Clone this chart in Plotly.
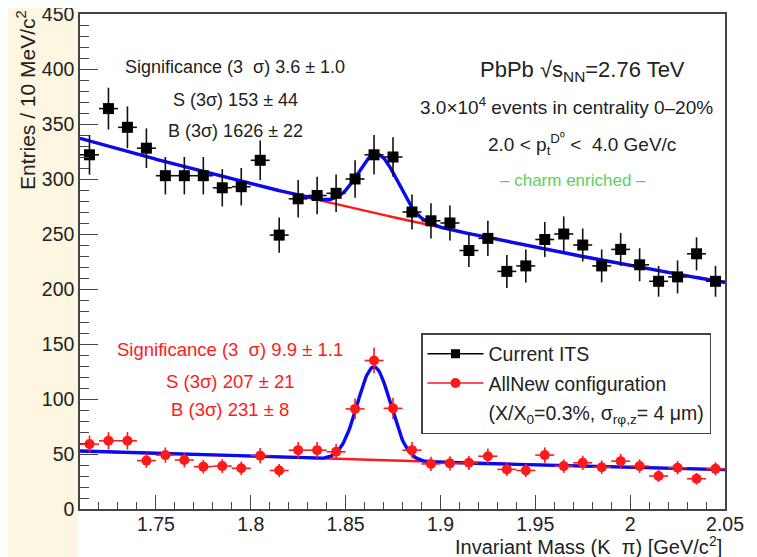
import numpy as np
import plotly.graph_objects as go

# ---------------- data ----------------
bin_centers = [1.715, 1.725, 1.735, 1.745, 1.755, 1.765, 1.775, 1.785, 1.795, 1.805,
               1.815, 1.825, 1.835, 1.845, 1.855, 1.865, 1.875, 1.885, 1.895, 1.905,
               1.915, 1.925, 1.935, 1.945, 1.955, 1.965, 1.975, 1.985, 1.995, 2.005,
               2.015, 2.025, 2.035, 2.045]
bin_half_width = [0.005] * 34

current_its = [322, 364, 347, 328, 303, 303, 303, 292, 293, 317,
               249, 282, 285, 287, 300, 322, 320, 270, 262, 260,
               235, 246, 216, 221, 245, 250, 240, 221, 236, 222,
               207, 211, 232, 207]
current_its_err = [18, 19, 19, 18, 17, 17, 17, 17, 17, 18,
                   16, 17, 17, 17, 17, 18, 18, 16, 16, 16,
                   15, 16, 15, 15, 16, 16, 15, 15, 15, 15,
                   14, 15, 15, 14]

allnew = [59, 62, 62, 44, 49, 44.5, 38.5, 39, 37, 48.5,
          35, 53.5, 53.5, 52, 91, 135, 91.5, 53.5, 41, 41.5,
          42, 48, 36, 35, 49, 39, 42, 38, 43.5, 39,
          30, 37.5, 27.5, 36.5]
allnew_err = [7.7, 7.9, 7.9, 6.6, 7.0, 6.7, 6.2, 6.2, 6.1, 7.0,
              5.9, 7.3, 7.3, 7.2, 9.5, 11.6, 9.6, 7.3, 6.4, 6.4,
              6.5, 6.9, 6.0, 5.9, 7.0, 6.2, 6.5, 6.2, 6.6, 6.2,
              5.5, 6.1, 5.2, 6.0]

# fit parameters (exponential background + gaussian signal)
fit_its = dict(b0=337.0, slope=1.449, amp=54.0, mean=1.867, sigma=0.0105)
fit_new = dict(b0=52.7, slope=1.135, amp=85.0, mean=1.865, sigma=0.0087)

x_tick_vals = [1.75, 1.8, 1.85, 1.9, 1.95, 2.0, 2.05]
x_tick_text = ["1.75", "1.8", "1.85", "1.9", "1.95", "2", "2.05"]
y_tick_vals = [0, 50, 100, 150, 200, 250, 300, 350, 400, 450]

X_MIN, X_MAX = 1.71, 2.05


def bkg(x, p):
    return p["b0"] * np.exp(-p["slope"] * (x - X_MIN))


def total(x, p):
    return bkg(x, p) + p["amp"] * np.exp(-0.5 * ((x - p["mean"]) / p["sigma"]) ** 2)


xf = np.linspace(X_MIN, X_MAX, 500)

FONT = "Liberation Sans, Arial, Helvetica, sans-serif"
RED = "#ff1a1a"
BLUE = "#0a0af0"
TXT = "#222"

fig = go.Figure()

# fits: background (red) under total (blue)
for p in (fit_its, fit_new):
    fig.add_trace(go.Scatter(x=xf, y=bkg(xf, p), mode="lines",
                             line=dict(color=RED, width=2.4), showlegend=False, hoverinfo="skip"))
for p in (fit_its, fit_new):
    fig.add_trace(go.Scatter(x=xf, y=total(xf, p), mode="lines",
                             line=dict(color=BLUE, width=3.4), showlegend=False, hoverinfo="skip"))

# data points
fig.add_trace(go.Scatter(
    x=bin_centers, y=current_its, mode="markers", showlegend=False,
    marker=dict(symbol="square", size=11, color="black"),
    error_y=dict(type="data", array=current_its_err, color="#111", thickness=1.6, width=0),
    error_x=dict(type="data", array=bin_half_width, color="#111", thickness=1.6, width=0),
))
fig.add_trace(go.Scatter(
    x=bin_centers, y=allnew, mode="markers", showlegend=False,
    marker=dict(symbol="circle", size=10, color=RED),
    error_y=dict(type="data", array=allnew_err, color=RED, thickness=1.6, width=0),
    error_x=dict(type="data", array=bin_half_width, color=RED, thickness=1.6, width=0),
))

# legend entries
fig.add_trace(go.Scatter(x=[None], y=[None], mode="lines+markers", name="Current ITS",
                         line=dict(color="black", width=1.5),
                         marker=dict(symbol="square", size=9, color="black"),
                         legendgroup="a"))
fig.add_trace(go.Scatter(x=[None], y=[None], mode="lines+markers", name="AllNew configuration",
                         line=dict(color=RED, width=1.5),
                         marker=dict(symbol="circle", size=10, color=RED),
                         legendgroup="b"))
fig.add_trace(go.Scatter(x=[None], y=[None], mode="lines",
                         name="(X/X<sub>0</sub>=0.3%, σ<sub>rφ,z</sub>= 4 μm)",
                         line=dict(color="rgba(0,0,0,0)", width=0),
                         legendgroup="c"))

# ---------------- layout ----------------
# The page body has an 8px margin, so the figure is shrunk and placed accordingly.
OFF = 8
PL, PR, PT, PB = 80, 725, 14, 509          # plot area in window pixels
W, H = 757 - OFF, 557 - OFF
pw, ph = PR - PL, PB - PT


def px(xp):
    return (xp - PL) / pw


def py(yp):
    return (PB - yp) / ph


ann = []


def add_text(text, xc, yc, size=18, color=TXT):
    ann.append(dict(text=text, x=px(xc), y=py(yc), xref="paper", yref="paper",
                    xanchor="center", yanchor="middle", showarrow=False,
                    font=dict(family=FONT, size=size, color=color)))


add_text("Significance (3\u00a0\u00a0σ) 3.6 ± 1.0", 235, 67)
add_text("S (3σ) 153 ± 44", 235, 100)
add_text("B (3σ) 1626 ± 22", 235, 131)
add_text("PbPb √s<sub>NN</sub>=2.76 TeV", 582, 71, size=22)
add_text("3.0×10<sup>4</sup> events in centrality 0–20%", 566, 106, size=19)
add_text("2.0 &lt; p<sub>t</sub><sup>D⁰</sup> &lt;\u00a0 4.0 GeV/c", 582, 144, size=19)
add_text("– charm enriched –", 573, 180, size=17, color="#5ccf5c")
add_text("Significance (3\u00a0\u00a0σ) 9.9 ± 1.1", 230, 350, size=18.5, color=RED)
add_text("S (3σ) 207 ± 21", 230, 381, size=18.5, color=RED)
add_text("B (3σ) 231 ± 8", 230, 409, size=18.5, color=RED)

# axis titles (ROOT style: at the end of the axes)
ann.append(dict(text="Entries / 10 MeV/c<sup>2</sup>", x=px(11), y=py(8),
                xref="paper", yref="paper", xanchor="left", yanchor="top",
                textangle=-90, showarrow=False,
                font=dict(family=FONT, size=21, color=TXT)))
ann.append(dict(text="Invariant Mass (K\u00a0\u00a0π) [GeV/c<sup>2</sup>]", x=px(724), y=py(545),
                xref="paper", yref="paper", xanchor="right", yanchor="middle",
                showarrow=False, font=dict(family=FONT, size=20, color=TXT)))

shapes = [dict(type="rect", xref="paper", yref="paper",
               x0=px(OFF), x1=px(78), y0=py(557), y1=py(OFF),
               fillcolor="#fdf6e0", line=dict(width=0), layer="below")]

axis_common = dict(showgrid=False, zeroline=False, showline=True, mirror=True,
                   linecolor="#444", linewidth=1.5, ticks="inside", tickcolor="#444",
                   tickwidth=1.2, ticklabeloverflow="allow",
                   tickfont=dict(family=FONT, size=19.5, color=TXT))

fig.update_layout(
    width=W, height=H,
    margin=dict(l=PL - OFF, r=757 - PR, t=PT - OFF, b=557 - PB, autoexpand=False),
    paper_bgcolor="white", plot_bgcolor="white",
    xaxis=dict(range=[X_MIN, X_MAX], tickvals=x_tick_vals, ticktext=x_tick_text,
               ticklen=14, ticklabelstandoff=-3,
               minor=dict(dtick=0.01, tick0=1.70, ticks="inside", ticklen=7,
                          tickcolor="#444", tickwidth=1.2),
               **axis_common),
    yaxis=dict(range=[0, 450], tickvals=y_tick_vals, ticklen=18,
               minor=dict(dtick=10, tick0=0, ticks="inside", ticklen=9,
                          tickcolor="#444", tickwidth=1.2),
               **axis_common),
    legend=dict(x=px(421), y=py(333), xanchor="left", yanchor="top",
                bordercolor="#444", borderwidth=1.5, bgcolor="white",
                font=dict(family=FONT, size=19.5, color=TXT),
                traceorder="grouped", tracegroupgap=1, itemwidth=56),
    annotations=ann,
    shapes=shapes,
    showlegend=True,
)

fig.write_html("out.html")
